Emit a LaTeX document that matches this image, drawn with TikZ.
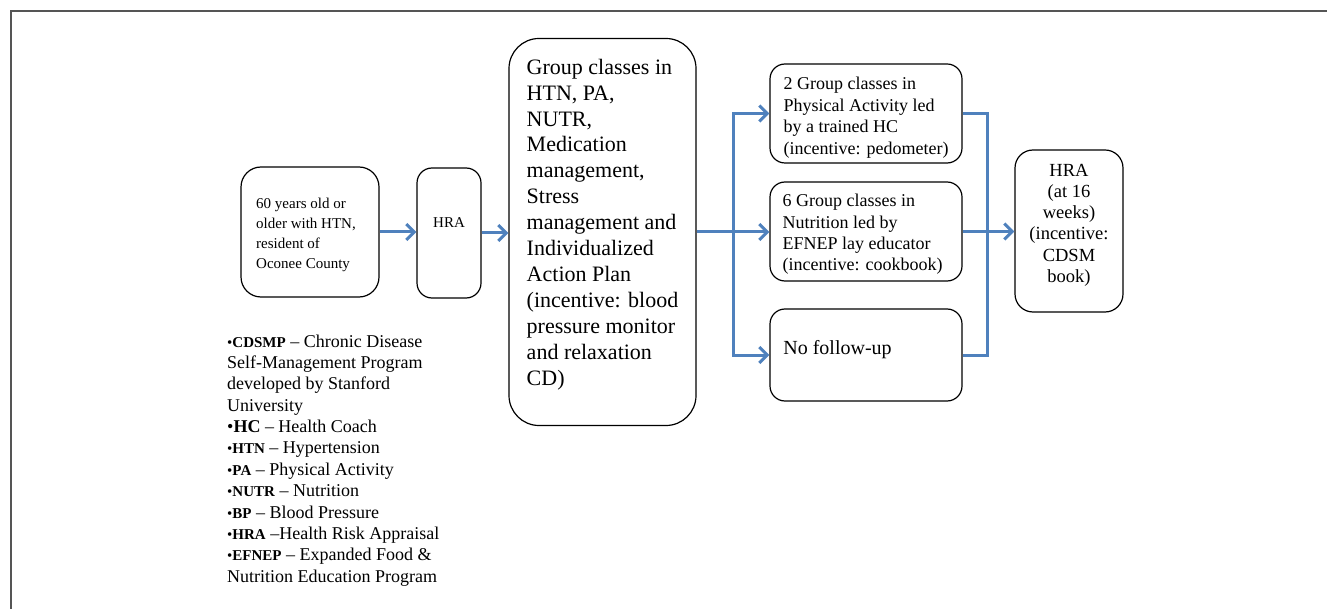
\documentclass[tikz,border=0pt]{standalone}
\usepackage{fontspec}
\setmainfont{Liberation Serif}
\newfontfamily\tnr{Liberation Serif}
\usetikzlibrary{arrows.meta}
\definecolor{flowblue}{RGB}{79,129,189}
\definecolor{framegray}{RGB}{85,85,85}
\newcommand{\fsz}[2]{\tnr\fontsize{#1}{#2}\selectfont}
\newcommand{\boxtext}[3][l]{\raisebox{#2}[\height][\depth]{\begin{tabular}{@{}#1@{}}#3\end{tabular}}}
\newcommand{\abbr}[1]{{\fsz{15}{21.36}\textbullet\textbf{#1}}}
\begin{document}
\begin{tikzpicture}[x=1pt,y=-1pt,
  box/.style={draw=black, line width=1.2pt, rounded corners=#1, inner sep=0pt},
  flow/.style={draw=flowblue, line width=3pt},
  arr/.style={flow, -{Straight Barb[length=8pt,width=16pt]}}]
\useasboundingbox (0,0) rectangle (1327,609);
\draw[framegray, line width=1.8pt] (1327,11) -- (11,11) -- (11,609);

\node[box=20pt, minimum width=138pt, minimum height=130pt, font=\fsz{15}{20}] (start) at (310,232)
  {\boxtext{-3pt}{60 years old or\\older with HTN,\\resident of\\Oconee County}\hspace*{8pt}};
\node[box=15pt, minimum width=64pt, minimum height=130pt, font=\fsz{15}{20}] (hra) at (449,233)
  {\raisebox{10pt}[\height][\depth]{HRA}};
\node[box=30pt, minimum width=187pt, minimum height=387pt, font=\fsz{22}{25.9}] (classes) at (602.5,232)
  {\boxtext{7.5pt}{Group classes in\\HTN, PA,\\NUTR,\\Medication\\management,\\Stress\\management and\\Individualized\\Action Plan\\(incentive: blood\\pressure monitor\\and relaxation\\CD)}};
\node[box=15pt, minimum width=192pt, minimum height=99pt, font=\fsz{18}{21.5}] (top) at (866,113.5)
  {\boxtext{-4pt}{2 Group classes in\\Physical Activity led\\by a trained HC\\(incentive: pedometer)}};
\node[box=15pt, minimum width=192pt, minimum height=99pt, font=\fsz{18}{21.2}] (mid) at (866,231.5)
  {\boxtext{-3pt}{6 Group classes in\\Nutrition led by\\EFNEP lay educator\\(incentive: cookbook)}\hspace*{7pt}};
\node[box=15pt, minimum width=192pt, minimum height=92pt, font=\fsz{20}{24}] (low) at (866,355)
  {\raisebox{5pt}[\height][\depth]{No follow-up}\hspace*{57pt}};
\node[box=18pt, minimum width=108pt, minimum height=162pt, font=\fsz{18.5}{21.3}] (hra2) at (1069,231)
  {\boxtext[c]{6pt}{HRA\\(at 16\\weeks)\\(incentive:\\CDSM\\book)}};

\node[anchor=north west, inner sep=0pt, font=\fsz{18}{21.36}] (legend) at (227,332)
  {\begin{tabular}{@{}l@{}}
  \abbr{CDSMP} – Chronic Disease\\
  Self-Management Program\\
  developed by Stanford\\
  University\\
  \textbullet\textbf{HC} – Health Coach\\
  \abbr{HTN} – Hypertension\\
  \abbr{PA} – Physical Activity\\
  \abbr{NUTR} – Nutrition\\
  \abbr{BP} – Blood Pressure\\
  \abbr{HRA} –Health Risk Appraisal\\
  \abbr{EFNEP} – Expanded Food \&\\
  Nutrition Education Program
  \end{tabular}};

\coordinate (split) at (733,232);
\coordinate (merge) at (987,232);

\draw[arr] (start.east) -- (start.east -| hra.west);
\draw[arr] (hra.east) -- (hra.east -| classes.west);
\draw[arr] (classes.east) -- (classes.east -| mid.west);
\draw[arr] (split |- low.west) -- (split |- top.west) -- (top.west);
\draw[arr] (split |- top.west) -- (split |- low.west) -- (low.west);
\draw[flow] (top.east) -- (top.east -| merge) -- (low.east -| merge) -- (low.east);
\draw[arr] (mid.east) -- (mid.east -| hra2.west);
\end{tikzpicture}
\end{document}
